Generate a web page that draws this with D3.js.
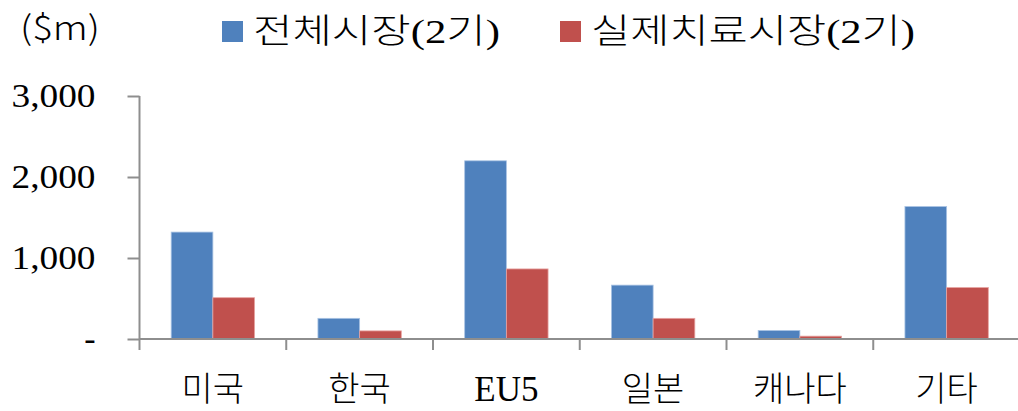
<!DOCTYPE html>
<html><head><meta charset="utf-8">
<script src="https://cdn.jsdelivr.net/npm/d3@7"></script>
<style>body{margin:0;background:#fff}svg{display:block}</style>
</head><body>
<svg id="c" width="1018" height="411"></svg>
<script>
const categories = ["미국","한국","EU5","일본","캐나다","기타"];
const seriesNames = ["전체시장(2기)","실제치료시장(2기)"];
const totalMarket = [1320, 255, 2200, 665, 105, 1635];
const treatMarket = [510, 100, 865, 255, 35, 635];
const yTicks = [0, 1000, 2000, 3000];
const yTickLabels = ["-", "1,000", "2,000", "3,000"];
const unitLabel = "($m)";
const colors = ["#4F81BD", "#C0504D"];

(function(){
const svg = d3.select("#c");
const mLeft = 139.5, mRight = 1020, mTop = 96, mBottom = 339;
const y = d3.scaleLinear().domain([0, 3000]).range([mBottom, mTop]);
const x0 = d3.scaleBand().domain(categories).range([mLeft, mRight]).padding(0);
const x1 = d3.scaleBand().domain(seriesNames).range([0, x0.bandwidth()]).paddingInner(0).paddingOuter(0.76);
const serif = "'Liberation Serif','Noto Sans CJK KR',serif";
const axisColor = "#8e8e8e";

// bars
const data = categories.map((c, i) => ({c, vals: [totalMarket[i], treatMarket[i]]}));
const g = svg.append("g");
data.forEach(d => {
  d.vals.forEach((v, j) => {
    g.append("rect")
      .attr("x", x0(d.c) + x1(seriesNames[j]))
      .attr("y", y(v))
      .attr("width", x1.bandwidth())
      .attr("height", y(0) - y(v))
      .attr("fill", colors[j])
      .attr("stroke", j === 0 ? "#a9c3e3" : "#e7a3a1")
      .attr("stroke-width", 0.8);
  });
});

// y axis
const yAxis = d3.axisLeft(y).tickValues(yTicks).tickSize(12).tickPadding(32)
  .tickFormat((d, i) => yTickLabels[i]);
const ya = svg.append("g").attr("transform", `translate(${mLeft},0)`).call(yAxis);
ya.select(".domain").remove();
ya.selectAll(".tick line").attr("stroke", axisColor).attr("stroke-width", 2);
ya.selectAll(".tick text").attr("font-family", serif).attr("font-size", 34).attr("fill", "#000")
  .each(function(d, i){ if (i > 0) d3.select(this).attr("textLength", 84).attr("lengthAdjust","spacingAndGlyphs"); });
svg.append("line").attr("x1", mLeft).attr("x2", mLeft).attr("y1", mTop).attr("y2", mBottom + 11)
  .attr("stroke", axisColor).attr("stroke-width", 2);

// x axis
svg.append("line").attr("x1", mLeft).attr("x2", mRight).attr("y1", mBottom).attr("y2", mBottom)
  .attr("stroke", axisColor).attr("stroke-width", 2);
categories.slice(1).forEach(c => {
  svg.append("line").attr("x1", x0(c)).attr("x2", x0(c)).attr("y1", mBottom).attr("y2", mBottom + 11)
    .attr("stroke", axisColor).attr("stroke-width", 2);
});
svg.append("g").selectAll("text").data(categories).join("text")
  .attr("x", d => x0(d) + x0.bandwidth() / 2)
  .attr("y", 401)
  .attr("text-anchor", "middle")
  .attr("fill", "#000")
  .attr("style", d => /[A-Za-z0-9]/.test(d)
     ? "font-family:'Liberation Serif',serif;font-size:35px;font-weight:normal"
     : "font-family:'Noto Sans CJK KR',sans-serif;font-size:34px;font-weight:300")
  .text(d => d);

// unit
svg.append("text").attr("x", 20).attr("y", 40).attr("font-family", "'Noto Sans CJK KR',sans-serif")
  .attr("font-size", 33).attr("font-weight", 300).attr("fill", "#000")
  .attr("textLength", 80).attr("lengthAdjust", "spacingAndGlyphs").text(unitLabel);

// legend
const legendPos = [{sx: 222, tx: 253, tw: 247}, {sx: 560, tx: 591, tw: 324}];
seriesNames.forEach((s, j) => {
  svg.append("rect").attr("x", legendPos[j].sx).attr("y", 21).attr("width", 21).attr("height", 21).attr("fill", colors[j]);
  svg.append("text").attr("x", legendPos[j].tx).attr("y", 43)
    .attr("font-family", serif).attr("font-size", 34).attr("font-weight", 300).attr("fill", "#000")
    .attr("textLength", legendPos[j].tw).attr("lengthAdjust", "spacingAndGlyphs").text(s);
});
})();
</script>
</body></html>
